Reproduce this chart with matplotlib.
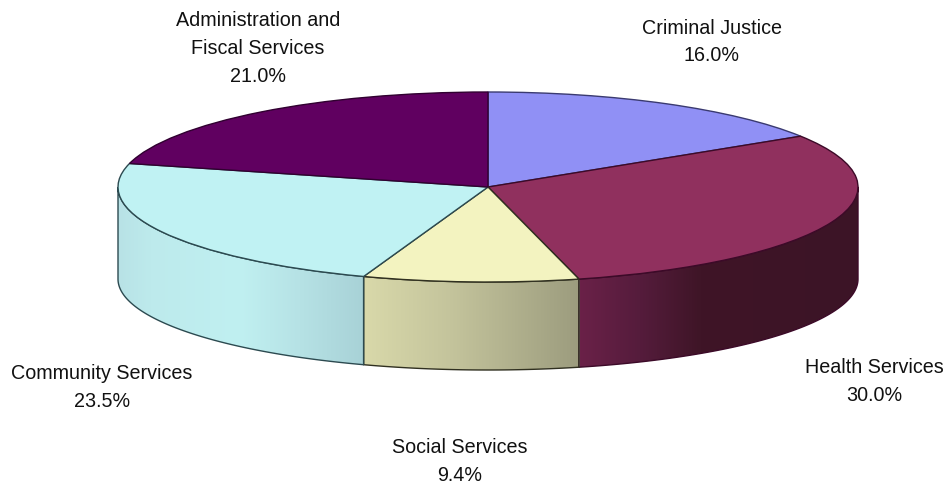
import numpy as np
import matplotlib
matplotlib.use("Agg")
import matplotlib.pyplot as plt
from matplotlib.colors import LinearSegmentedColormap
from matplotlib.patches import Polygon, Wedge
from matplotlib.transforms import Affine2D

labels = ["Criminal Justice", "Health Services", "Social Services",
          "Community Services", "Administration and\nFiscal Services"]
shares = [16.0, 30.0, 9.4, 23.5, 21.0]

top_colors = ["#9090f5", "#90305e", "#f3f3c0", "#c0f2f3", "#600060"]
edge_colors = ["#3a3a70", "#3c0a28", "#303020", "#2c4a50", "#300030"]

# side wall shading from left to right, (x position in px, colour)
wall_shading = {
    1: [(580, "#6a2148"), (640, "#551c3c"), (700, "#3f1527"), (858, "#3c1426")],
    2: [(363, "#d9d9aa"), (450, "#c4c49c"), (580, "#9c9c7e")],
    3: [(118, "#b8e2e6"), (150, "#bdeaec"), (240, "#c0f0f1"), (300, "#b6e2e5"), (363, "#a8d2d7")],
}

label_pos = [(712, 42), (874, 381.5), (460, 461.5), (102, 387.5), (258, 48.5)]

cx, cy = 488, 187
rx, ry = 370, 95
# the lower rim is a slightly flatter ellipse
rim_cy, rim_ry = 279, 91

fig = plt.figure(figsize=(9.49, 4.88), dpi=100)
ax = fig.add_axes([0, 0, 1, 1])
ax.set_xlim(0, 949)
ax.set_ylim(488, 0)
ax.axis("off")

stops = np.cumsum([0] + shares) / sum(shares) * 360

# side walls first, only the front half of the ellipse shows
for i, shade in wall_shading.items():
    a0 = max(stops[i], 90)
    a1 = min(stops[i + 1], 270)
    aa = np.radians(np.linspace(a0, a1, 200))
    xs = cx + rx * np.sin(aa)
    top_y = cy - ry * np.cos(aa)
    low_y = rim_cy - rim_ry * np.cos(aa)
    pts = np.vstack([np.c_[xs, top_y], np.c_[xs[::-1], low_y[::-1]]])
    wall = Polygon(pts, closed=True, fc="none", ec=edge_colors[i], lw=1.0, zorder=3)
    ax.add_patch(wall)

    x0, x1 = shade[0][0], shade[-1][0]
    cmap = LinearSegmentedColormap.from_list(
        "wall", [((x - x0) / (x1 - x0), c) for x, c in shade])
    img = ax.imshow(np.linspace(0, 1, 256).reshape(1, -1), cmap=cmap,
                    extent=[x0, x1, 0, 488], aspect="auto", zorder=2)
    img.set_clip_path(wall)
ax.set_xlim(0, 949)
ax.set_ylim(488, 0)

# top face, y flipped so the wedge angles run clockwise on screen
to_top = Affine2D().scale(rx, ry).translate(cx, cy) + ax.transData
for i in range(len(shares)):
    w = Wedge((0, 0), 1, stops[i] - 90, stops[i + 1] - 90, fc=top_colors[i],
              ec=edge_colors[i], lw=1.0, transform=to_top, zorder=4)
    ax.add_patch(w)

for i in range(len(shares)):
    ax.text(label_pos[i][0], label_pos[i][1], f"{labels[i]}\n{shares[i]:.1f}%",
            ha="center", va="center", ma="center", family="Liberation Sans",
            fontsize=14.2, color="#111111", linespacing=1.58)

fig.savefig("out.png", dpi=100)
